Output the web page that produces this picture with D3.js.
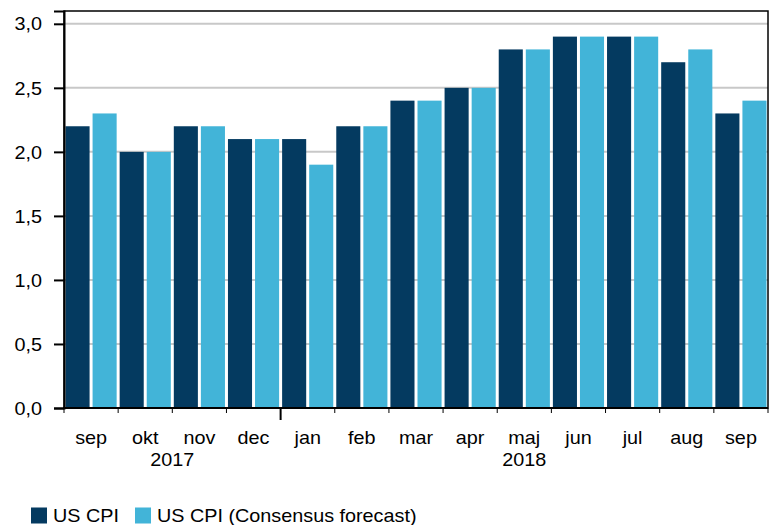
<!DOCTYPE html>
<html><head><meta charset="utf-8">
<script src="https://cdn.jsdelivr.net/npm/d3@7"></script>
<style>body{margin:0;background:#fff}svg{display:block}text{font-family:"Liberation Sans",Arial,sans-serif}</style>
</head><body>
<script>
const months = ["sep","okt","nov","dec","jan","feb","mar","apr","maj","jun","jul","aug","sep"];
const years = [{label:"2017", from:0, to:4},{label:"2018", from:4, to:13}];
const cpi = [2.2,2.0,2.2,2.1,2.1,2.2,2.4,2.5,2.8,2.9,2.9,2.7,2.3];
const consensus = [2.3,2.0,2.2,2.1,1.9,2.2,2.4,2.5,2.8,2.9,2.9,2.8,2.4];
const yTicks = [0,0.5,1.0,1.5,2.0,2.5,3.0];
const seriesNames = ["US CPI","US CPI (Consensus forecast)"];
const colors = ["#043a60","#42b4d8"];

const W=777,H=525;
const L=64,R=768,T=11,B=408;
const FS=18, SX=1.1;
const svg=d3.select("body").append("svg").attr("width",W).attr("height",H);
const idx=d3.range(months.length);
const x=d3.scaleBand().domain(idx).range([L,R]).padding(0);
const xi=d3.scaleBand().domain([0,1]).range([0,x.bandwidth()]).padding(0);
const y=d3.scaleLinear().domain([0,3.1]).range([B,T]);
const fmt=d=>d3.format(".1f")(d).replace(".",",");

function label(sel){ // place text with slight horizontal stretch
  sel.each(function(d){
    const t=d3.select(this);
    const px=+t.attr("data-x"), py=+t.attr("data-y");
    t.attr("transform",`translate(${px},${py}) scale(${SX},1)`);
  });
}

// grid
svg.append("g").selectAll("line").data(yTicks.filter(d=>d>0)).join("line")
 .attr("x1",L).attr("x2",R).attr("y1",d=>y(d)).attr("y2",d=>y(d))
 .attr("stroke","#c8c8c8").attr("stroke-width",2);

// bars
const data=idx.map(i=>[cpi[i],consensus[i]]);
const g=svg.append("g").selectAll("g").data(data).join("g").attr("transform",(d,i)=>`translate(${x(i)},0)`);
g.selectAll("rect").data(d=>d.map((v,k)=>({v,k}))).join("rect")
 .attr("x",d=>xi(d.k)+1.5).attr("width",xi.bandwidth()-3)
 .attr("y",d=>y(d.v)).attr("height",d=>y(0)-y(d.v))
 .attr("fill",d=>colors[d.k]);

// frame
svg.append("rect").attr("x",L).attr("y",T).attr("width",R-L).attr("height",B-T)
 .attr("fill","none").attr("stroke","#000").attr("stroke-width",1.5);

// y axis
const ya=svg.append("g").attr("transform",`translate(${L},0)`)
 .call(d3.axisLeft(y).tickValues(yTicks).tickFormat(fmt).tickSize(10));
ya.select(".domain").attr("stroke-width",2);
ya.selectAll(".tick line").attr("stroke-width",2);
ya.selectAll(".tick text").attr("x",null).attr("dy",null)
 .attr("font-size",FS).attr("fill","#000").attr("font-family","Liberation Sans, Arial, sans-serif")
 .attr("text-anchor","end").attr("dominant-baseline","central")
 .attr("transform",`translate(-22,0) scale(${SX},1)`);

// bottom axis line
svg.append("line").attr("x1",L-1).attr("x2",R).attr("y1",B).attr("y2",B).attr("stroke","#000").attr("stroke-width",2);

// x ticks at boundaries
const bounds=d3.range(months.length+1).map(i=>i<months.length?x(i):R);
const yearStarts=years.map(d=>d.from).filter(d=>d>0);
svg.append("g").selectAll("line").data(bounds).join("line")
 .attr("x1",d=>d).attr("x2",d=>d).attr("y1",B)
 .attr("y2",(d,i)=>yearStarts.includes(i)?B+12:B+5)
 .attr("stroke","#000").attr("stroke-width",(d,i)=>yearStarts.includes(i)?2:1);

// month labels
svg.append("g").selectAll("text").data(months).join("text")
 .attr("data-x",(d,i)=>x(i)+x.bandwidth()/2).attr("data-y",444)
 .attr("text-anchor","middle").attr("font-size",FS).attr("fill","#000").text(d=>d).call(label);

// year labels
svg.append("g").selectAll("text").data(years).join("text")
 .attr("data-x",d=>((d.from<months.length?x(d.from):R)+(d.to<months.length?x(d.to):R))/2).attr("data-y",466)
 .attr("text-anchor","middle").attr("font-size",FS).attr("fill","#000").text(d=>d.label).call(label);

// legend
const lg=svg.append("g");
const lx=[31,135];
seriesNames.forEach((n,k)=>{
  lg.append("rect").attr("x",lx[k]).attr("y",507.5).attr("width",16).attr("height",16).attr("fill",colors[k]);
  lg.append("text").attr("data-x",lx[k]+22).attr("data-y",522.3).attr("font-size",FS).attr("fill","#000").text(n).call(label);
});
</script>
</body></html>
